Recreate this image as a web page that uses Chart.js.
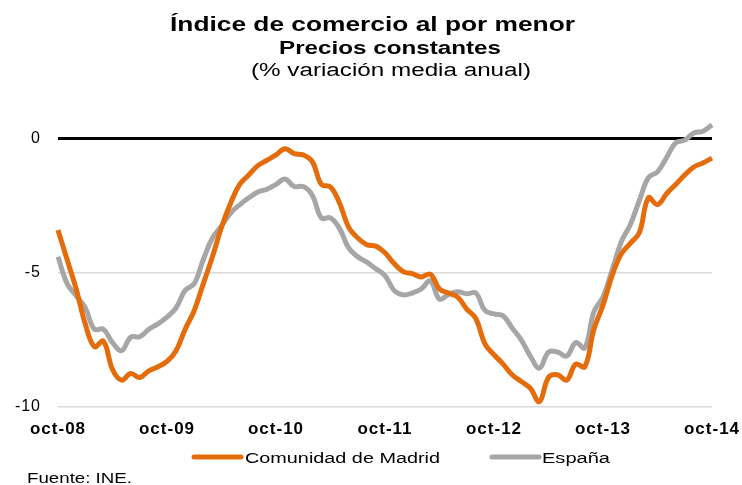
<!DOCTYPE html>
<html>
<head>
<meta charset="utf-8">
<script src="https://cdn.jsdelivr.net/npm/chart.js@4"></script>
<style>
  html, body { margin: 0; padding: 0; background: #fff; }
  #wrap { width: 742px; height: 485px; position: relative; }
</style>
</head>
<body>
<div id="wrap"><canvas id="chart"></canvas></div>
<script>
// --- Data (monthly, oct-08 .. oct-14) ---
const tickLabels = ['oct-08', 'oct-09', 'oct-10', 'oct-11', 'oct-12', 'oct-13', 'oct-14'];
const monthNames = ['oct', 'nov', 'dic', 'ene', 'feb', 'mar', 'abr', 'may', 'jun', 'jul', 'ago', 'sep'];

const madrid = [
    -3.4, -4.5, -5.6, -6.9, -7.75, -7.55, -8.6, -9.0, -8.75, -8.9, -8.65, -8.5,
    -8.3, -7.9, -7.1, -6.4, -5.4, -4.4, -3.3, -2.4, -1.7, -1.35, -1.0, -0.8,
    -0.6, -0.37, -0.55, -0.6, -0.85, -1.7, -1.8, -2.4, -3.3, -3.7, -3.95, -4.0,
    -4.25, -4.65, -4.95, -5.03, -5.15, -5.05, -5.6, -5.75, -5.9, -6.35, -6.7, -7.65,
    -8.05, -8.4, -8.8, -9.05, -9.3, -9.8, -8.9, -8.8, -9.0, -8.4, -8.5, -7.1,
    -6.2, -5.1, -4.3, -3.9, -3.5, -2.2, -2.45, -2.05, -1.7, -1.35, -1.05, -0.9,
    -0.72
];
const espana = [
    -4.4, -5.4, -5.85, -6.3, -7.1, -7.1, -7.6, -7.9, -7.4, -7.38, -7.1, -6.9,
    -6.65, -6.3, -5.65, -5.4, -4.5, -3.7, -3.25, -2.77, -2.46, -2.2, -1.98, -1.88,
    -1.7, -1.5, -1.78, -1.78, -2.1, -2.95, -2.95, -3.35, -4.07, -4.4, -4.6, -4.85,
    -5.1, -5.65, -5.82, -5.75, -5.6, -5.3, -5.98, -5.8, -5.7, -5.78, -5.75, -6.4,
    -6.53, -6.6, -7.05, -7.5, -8.1, -8.55, -7.95, -7.95, -8.1, -7.6, -7.8, -6.45,
    -5.9, -4.9, -3.85, -3.2, -2.3, -1.45, -1.23, -0.7, -0.15, -0.05, 0.22, 0.28,
    0.52
];
const yTicks = [-10, -5, 0];

// month category labels, one per data point
const labels = madrid.map((_, i) => {
    const yr = 8 + Math.floor((i + 9) / 12);
    return monthNames[i % 12] + '-' + String(yr).padStart(2, '0');
});

const FONT = '"Liberation Sans", Arial, sans-serif';

// the original text is set in a wide face, so stretch horizontally to a target width
function wideText(c, text, x, y, font, width, align) {
    c.save();
    c.font = font;
    const w = c.measureText(text).width;
    const k = width / w;
    let left = x;
    if (align === 'center') left = x - width / 2;
    c.translate(left, y);
    c.scale(k, 1);
    c.textAlign = 'left';
    c.fillText(text, 0, 0);
    c.restore();
}

// --- Header, legend, footer ---
const textPlugin = {
    id: 'texts',
    beforeDraw(chart) {
        chart.ctx.letterSpacing = '1px'; // widen the axis labels a little
    },
    afterDraw(chart) {
        const c = chart.ctx;
        c.letterSpacing = '0px';
        c.save();
        c.fillStyle = '#000';
        c.textBaseline = 'alphabetic';
        wideText(c, 'Índice de comercio al por menor', 372.5, 31, 'bold 21px ' + FONT, 405, 'center');
        wideText(c, 'Precios constantes', 390, 54, 'bold 18px ' + FONT, 222, 'center');
        wideText(c, '(% variación media anual)', 391, 76, '18px ' + FONT, 280, 'center');

        // legend
        const items = [
            { x0: 194, x1: 241, tx: 245, tw: 195 },
            { x0: 492, x1: 539, tx: 542, tw: 68 }
        ];
        chart.data.datasets.forEach((ds, i) => {
            const it = items[i];
            c.strokeStyle = ds.borderColor;
            c.lineWidth = 5;
            c.lineCap = 'round';
            c.beginPath();
            c.moveTo(it.x0, 457);
            c.lineTo(it.x1, 457);
            c.stroke();
            wideText(c, ds.label, it.tx, 463, '15.5px ' + FONT, it.tw, 'left');
        });

        wideText(c, 'Fuente: INE.', 27, 483, '15px ' + FONT, 105, 'left');
        c.restore();
    }
};

const ctx = document.getElementById('chart').getContext('2d');
const chart = new Chart(ctx, {
    type: 'line',
    data: {
        labels: labels,
        datasets: [{
            label: 'Comunidad de Madrid',
            data: madrid,
            borderColor: '#E46C0A',
            backgroundColor: '#E46C0A',
            borderWidth: 5,
            tension: 0.4,
            pointRadius: 0,
            fill: false
        }, {
            label: 'España',
            data: espana,
            borderColor: '#A6A6A6',
            backgroundColor: '#A6A6A6',
            borderWidth: 5,
            tension: 0.4,
            pointRadius: 0,
            fill: false
        }]
    },
    options: {
        responsive: true,
        maintainAspectRatio: false,
        animation: false,
        layout: {
            padding: { top: 112, left: 0, right: 30, bottom: 44 }
        },
        plugins: {
            legend: { display: false },
            tooltip: { enabled: false }
        },
        scales: {
            x: {
                grid: { display: false },
                border: { display: false },
                ticks: {
                    autoSkip: false,
                    maxRotation: 0,
                    color: '#000',
                    font: { family: FONT, size: 17, weight: 'bold' },
                    padding: 4,
                    callback: function (val, idx) {
                        return idx % 12 === 0 ? tickLabels[idx / 12] : null;
                    }
                },
                afterFit: function (scale) { scale.height = 34; }
            },
            y: {
                min: -10,
                max: 1,
                border: { display: false },
                afterBuildTicks: function (scale) {
                    scale.ticks = yTicks.map(v => ({ value: v }));
                },
                afterFit: function (scale) { scale.width = 58; },
                grid: {
                    drawTicks: false,
                    color: c => c.tick && c.tick.value === 0 ? '#000' : '#D9D9D9',
                    lineWidth: c => c.tick && c.tick.value === 0 ? 3 : 1.5
                },
                ticks: {
                    color: '#000',
                    font: { family: FONT, size: 16 },
                    padding: 17
                }
            }
        }
    },
    plugins: [textPlugin]
});
</script>
</body>
</html>
